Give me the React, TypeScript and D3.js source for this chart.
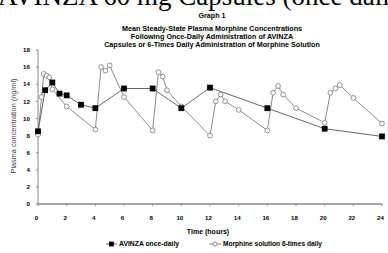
// Graph 1 - mean steady-state plasma morphine concentrations
import React, { useEffect, useRef } from 'react';
import * as d3 from 'd3';

const avinzaTimes = [0, 0.5, 1, 1.5, 2, 3, 4, 6, 8, 10, 12, 16, 20, 24];
const avinzaValues = [8.5, 13.3, 14.2, 12.9, 12.7, 11.6, 11.2, 13.5, 13.5, 11.2, 13.6, 11.2, 8.8, 7.9];

const solutionTimes = [
  0, 0.25, 0.4, 0.6, 0.8, 1, 2, 4, 4.4, 4.7, 5, 6, 8, 8.4, 8.7, 9, 10, 12,
  12.4, 12.75, 13.05, 14, 16, 16.4, 16.75, 17.1, 18, 20, 20.4, 20.75, 21.05, 22, 24,
];
const solutionValues = [
  8.1, 12.5, 15.2, 15.0, 14.8, 13.4, 11.4, 8.7, 16.0, 15.6, 16.2, 12.5, 8.6, 15.4, 14.9, 13.3, 11.4, 8.0,
  12.0, 12.8, 12.0, 11.0, 8.6, 13.0, 13.8, 12.8, 11.2, 9.5, 13.0, 13.5, 13.9, 12.4, 9.4,
];

const xTicks = [0, 2, 4, 6, 8, 10, 12, 14, 16, 18, 20, 22, 24];
const yTicks = [0, 2, 4, 6, 8, 10, 12, 14, 16, 18];

const titleLines = [
  'Mean Steady-State Plasma Morphine Concentrations',
  'Following Once-Daily Administration of AVINZA',
  'Capsules or 6-Times Daily Administration of Morphine Solution',
];

const FONT = '"Liberation Sans", Arial, sans-serif';

const App: React.FC = () => {
  const ref = useRef<SVGSVGElement>(null);

  useEffect(() => {
    if (!ref.current) return;
    const svg = d3.select(ref.current);
    svg.selectAll('*').remove();

    const width = 388;
    const height = 253;
    svg.attr('width', width).attr('height', height);

    svg.append('rect').attr('width', width).attr('height', height).attr('fill', 'white');

    // page heading, cut off by the top edge as in the scan
    svg.append('text')
      .attr('x', -2)
      .attr('y', 5)
      .style('font-family', '"Liberation Serif", "Times New Roman", serif')
      .style('font-size', '27px')
      .attr('fill', '#000')
      .text('AVINZA 60 mg Capsules (once daily)');

    const x = d3.scaleLinear().domain([0, 24]).range([38, 382]);
    const y = d3.scaleLinear().domain([0, 18]).range([204, 50]);

    // Titles
    svg.append('text')
      .attr('x', 212)
      .attr('y', 18)
      .attr('text-anchor', 'middle')
      .style('font-family', FONT)
      .style('font-size', '7.2px')
      .style('font-weight', 'bold')
      .text('Graph 1');

    titleLines.forEach((t, i) => {
      svg.append('text')
        .attr('x', 212)
        .attr('y', 30.5 + i * 8)
        .attr('text-anchor', 'middle')
        .style('font-family', FONT)
        .style('font-size', '7.2px')
        .style('font-weight', 'bold')
        .text(t);
    });

    const axisColor = '#8a8a8a';

    // Axes
    svg.append('line')
      .attr('x1', x(0)).attr('x2', x(0))
      .attr('y1', y(18)).attr('y2', y(0))
      .attr('stroke', axisColor).attr('stroke-width', 1);
    svg.append('line')
      .attr('x1', x(0)).attr('x2', x(24))
      .attr('y1', y(0)).attr('y2', y(0))
      .attr('stroke', axisColor).attr('stroke-width', 1.5);

    yTicks.forEach((t) => {
      svg.append('line')
        .attr('x1', x(0) - 2).attr('x2', x(0))
        .attr('y1', y(t)).attr('y2', y(t))
        .attr('stroke', axisColor);
      svg.append('text')
        .attr('x', x(0) - 8)
        .attr('y', y(t) + 2.2)
        .attr('text-anchor', 'end')
        .style('font-family', FONT)
        .style('font-size', '6.2px')
        .style('font-weight', 'bold')
        .text(t);
    });

    xTicks.forEach((t) => {
      svg.append('line')
        .attr('x1', x(t)).attr('x2', x(t))
        .attr('y1', y(0)).attr('y2', y(0) + 2)
        .attr('stroke', axisColor);
      svg.append('text')
        .attr('x', x(t) - 1.5)
        .attr('y', 219.5)
        .attr('text-anchor', 'middle')
        .style('font-family', FONT)
        .style('font-size', '6.2px')
        .style('font-weight', 'bold')
        .text(t);
    });

    svg.append('text')
      .attr('x', 208)
      .attr('y', 234)
      .attr('text-anchor', 'middle')
      .style('font-family', FONT)
      .style('font-size', '7px')
      .style('font-weight', 'bold')
      .text('Time (hours)');

    svg.append('text')
      .attr('transform', `translate(16,${126}) rotate(-90)`)
      .attr('text-anchor', 'middle')
      .style('font-family', FONT)
      .style('font-size', '7.3px')
      .attr('fill', '#444')
      .text('Plasma concentration (ng/ml)');

    const solution = solutionTimes.map((t, i) => [t, solutionValues[i]] as [number, number]);
    const avinza = avinzaTimes.map((t, i) => [t, avinzaValues[i]] as [number, number]);

    const line = d3.line<[number, number]>()
      .x((d) => x(d[0]))
      .y((d) => y(d[1]));

    svg.append('path')
      .datum(solution)
      .attr('fill', 'none')
      .attr('stroke', '#8c8c8c')
      .attr('stroke-width', 1)
      .attr('d', line);

    svg.append('path')
      .datum(avinza)
      .attr('fill', 'none')
      .attr('stroke', '#666')
      .attr('stroke-width', 1)
      .attr('d', line);

    svg.selectAll('circle.sol')
      .data(solution)
      .enter()
      .append('circle')
      .attr('class', 'sol')
      .attr('cx', (d) => x(d[0]))
      .attr('cy', (d) => y(d[1]))
      .attr('r', 2.4)
      .attr('fill', 'white')
      .attr('stroke', '#777')
      .attr('stroke-width', 0.8);

    svg.selectAll('rect.avz')
      .data(avinza)
      .enter()
      .append('rect')
      .attr('class', 'avz')
      .attr('x', (d) => x(d[0]) - 2.9)
      .attr('y', (d) => y(d[1]) - 2.9)
      .attr('width', 5.8)
      .attr('height', 5.8)
      .attr('fill', '#000');

    // Legend
    const ly = 244;
    svg.append('line')
      .attr('x1', 106).attr('x2', 117).attr('y1', ly).attr('y2', ly)
      .attr('stroke', '#666');
    svg.append('rect')
      .attr('x', 109).attr('y', ly - 2.4).attr('width', 4.8).attr('height', 4.8)
      .attr('fill', '#000');
    svg.append('text')
      .attr('x', 119).attr('y', ly + 2.3)
      .style('font-family', FONT)
      .style('font-size', '6.8px')
      .style('font-weight', 'bold')
      .text('AVINZA once-daily');

    svg.append('line')
      .attr('x1', 209).attr('x2', 221).attr('y1', ly).attr('y2', ly)
      .attr('stroke', '#8c8c8c');
    svg.append('circle')
      .attr('cx', 215).attr('cy', ly).attr('r', 2)
      .attr('fill', 'white').attr('stroke', '#777').attr('stroke-width', 0.8);
    svg.append('text')
      .attr('x', 223).attr('y', ly + 2.3)
      .style('font-family', FONT)
      .style('font-size', '6.6px')
      .style('font-weight', 'bold')
      .text('Morphine solution 6-times daily');
  }, []);

  return (
    <div style={{ position: 'absolute', left: 0, top: 0 }}>
      <svg ref={ref} style={{ display: 'block' }}></svg>
    </div>
  );
};

export default App;
